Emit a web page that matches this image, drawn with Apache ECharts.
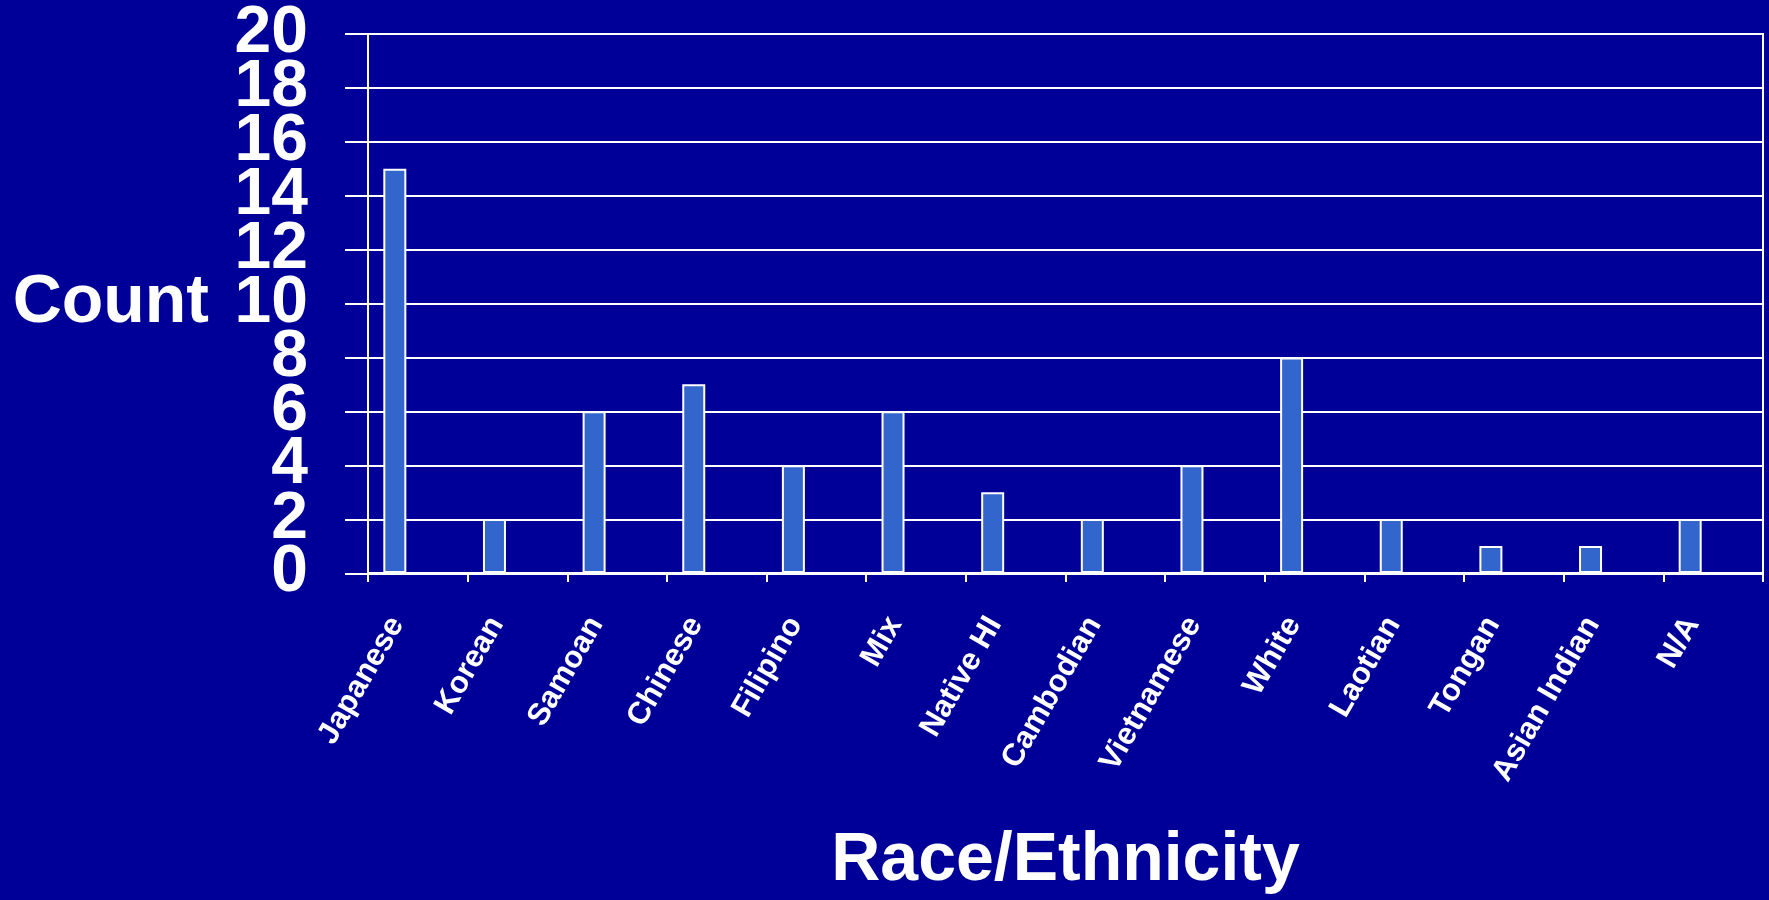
<!DOCTYPE html>
<html>
<head>
<meta charset="utf-8">
<script src="https://cdn.jsdelivr.net/npm/echarts@6/dist/echarts.min.js"></script>
<style>
html,body{margin:0;padding:0;background:#000099;}
#chart{width:1769px;height:900px;}
</style>
</head>
<body>
<div id="chart"></div>
<script>
const categories = ['Japanese','Korean','Samoan','Chinese','Filipino','Mix','Native HI','Cambodian','Vietnamese','White','Laotian','Tongan','Asian Indian','N/A'];
const counts = [15, 2, 6, 7, 4, 6, 3, 2, 4, 8, 2, 1, 1, 2];
const emptySecondSeries = [null, null, null, null, null, null, null, null, null, null, null, null, null, null];
const yTickMin = 0, yTickMax = 20, yTickStep = 2;

const FONT = '"Liberation Sans", Arial, Helvetica, sans-serif';
const yLabelStyle = {color: '#ffffff', fontFamily: FONT, fontWeight: 'bold', fontSize: 66};
const chart = echarts.init(document.getElementById('chart'), null, {renderer: 'canvas'});
chart.setOption({
  backgroundColor: '#000099',
  animation: false,
  grid: [
    {   // main plot area
      left: 368, right: 6, top: 34, bottom: 326,
      show: true, borderColor: '#ffffff', borderWidth: 2, backgroundColor: 'transparent'
    },
    {   // same vertical scale, extended to the left so gridlines also form the outward ticks
      left: 345, right: 6, top: 34, bottom: 326, show: false
    }
  ],
  xAxis: [
    {
      type: 'category',
      gridIndex: 0,
      data: categories,
      boundaryGap: true,
      name: 'Race/Ethnicity',
      nameLocation: 'middle',
      nameGap: 288,
      nameTextStyle: {color: '#ffffff', fontFamily: FONT, fontWeight: 'bold', fontSize: 68, align: 'center', verticalAlign: 'middle'},
      axisLine: {show: true, lineStyle: {color: '#ffffff', width: 2}},
      axisTick: {show: true, length: 9, alignWithLabel: false, lineStyle: {color: '#ffffff', width: 2}},
      axisLabel: {
        interval: 0, rotate: 60, margin: 10,
        color: '#ffffff', fontFamily: FONT, fontWeight: 'bold', fontSize: 31,
        padding: [0, 42, 0, 0]
      },
      splitLine: {show: false},
      z: 5
    },
    {
      type: 'category',
      gridIndex: 1,
      data: categories,
      show: false
    }
  ],
  yAxis: [
    {
      type: 'value',
      gridIndex: 0,
      min: yTickMin, max: yTickMax, interval: yTickStep,
      name: 'Count',
      nameLocation: 'middle',
      nameRotate: 0,
      nameGap: 159,
      nameTextStyle: {color: '#ffffff', fontFamily: FONT, fontWeight: 'bold', fontSize: 68, align: 'right', verticalAlign: 'middle'},
      axisLine: {show: true, onZero: false, lineStyle: {color: '#ffffff', width: 2}},
      axisTick: {show: false},
      axisLabel: Object.assign({
        show: true, showMinLabel: true, showMaxLabel: true, hideOverlap: false, margin: 60,
        formatter: v => (v % (2 * yTickStep) === 0 ? String(v) : '')
      }, yLabelStyle),
      splitLine: {show: false},
      z: 5
    },
    {
      type: 'value',
      gridIndex: 1,
      min: yTickMin, max: yTickMax, interval: yTickStep,
      axisLine: {show: false},
      axisTick: {show: false},
      axisLabel: Object.assign({
        show: true, showMinLabel: true, showMaxLabel: true, hideOverlap: false, margin: 37,
        formatter: v => (v % (2 * yTickStep) !== 0 ? String(v) : '')
      }, yLabelStyle),
      splitLine: {show: true, lineStyle: {color: '#ffffff', width: 2}}
    }
  ],
  series: [
    {
      type: 'bar',
      name: 'Count',
      xAxisIndex: 0, yAxisIndex: 0,
      data: counts,
      barWidth: 23,
      barGap: '100%',
      z: 3,
      itemStyle: {color: '#3366CC', borderColor: '#ffffff', borderWidth: 2}
    },
    {
      type: 'bar',
      name: 'Empty',
      xAxisIndex: 0, yAxisIndex: 0,
      data: emptySecondSeries,
      barWidth: 23,
      itemStyle: {color: '#3366CC'}
    }
  ]
});
</script>
</body>
</html>
